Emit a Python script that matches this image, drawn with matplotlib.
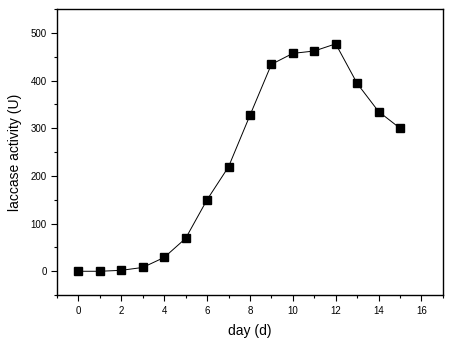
import matplotlib
matplotlib.use("Agg")
import matplotlib.pyplot as plt
from matplotlib.ticker import MultipleLocator

# laccase activity over the culture period
days = [0, 1, 2, 3, 4, 5, 6, 7, 8, 9, 10, 11, 12, 13, 14, 15]
activity = [0, 0, 2, 8, 29, 69, 150, 219, 327, 434, 457, 462, 477, 394, 335, 300]

plt.rcParams["font.family"] = ["Liberation Sans", "DejaVu Sans"]

fig = plt.figure(figsize=(4.77, 3.48), dpi=100)
ax = fig.add_axes([0.1195, 0.152, 0.809, 0.822])

ax.plot(days, activity, color="black", linewidth=0.7, marker="s",
        markersize=5.2, markerfacecolor="black", markeredgecolor="black")

ax.set_xlim(-1, 17)
ax.set_ylim(-50, 550)
ax.xaxis.set_major_locator(MultipleLocator(2))
ax.xaxis.set_minor_locator(MultipleLocator(1))
ax.yaxis.set_major_locator(MultipleLocator(100))
ax.yaxis.set_minor_locator(MultipleLocator(50))
ax.tick_params(which="both", direction="out", top=False, right=False,
               labelsize=7, width=0.8)
ax.tick_params(which="major", length=4)
ax.tick_params(which="minor", length=2.5)
for s in ax.spines.values():
    s.set_linewidth(1.0)

ax.set_xlabel("day (d)", fontsize=10, labelpad=6)
ax.set_ylabel("laccase activity (U)", fontsize=10, labelpad=6)

fig.savefig("out.png", dpi=100)
